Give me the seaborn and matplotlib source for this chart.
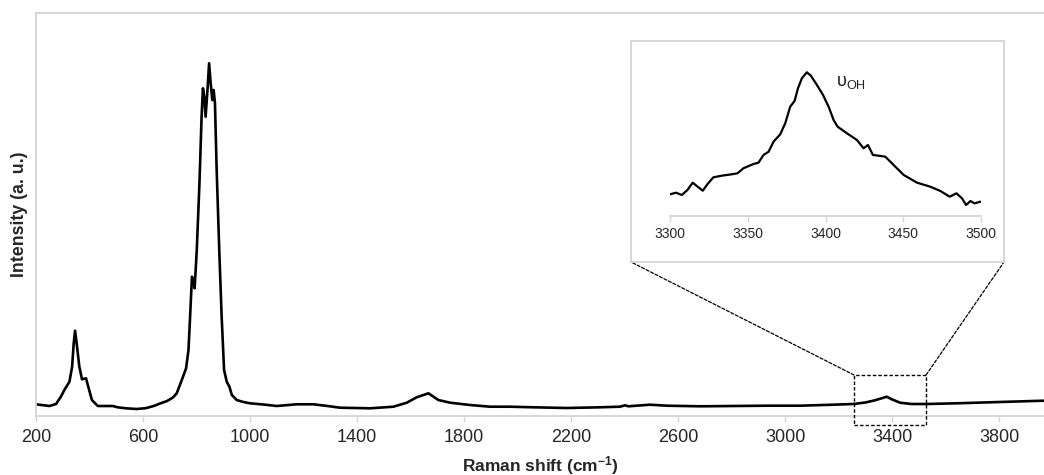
import numpy as np
import pandas as pd
import seaborn as sns
import matplotlib.pyplot as plt
from matplotlib.patches import Rectangle, ConnectionPatch

# Espectro Raman completo
raman_shift = [200, 250, 275, 293, 306, 325, 335, 341, 346, 352, 362, 372, 387, 397, 409, 431,
               487, 505, 536, 576, 610, 640, 664, 690, 712, 726, 745, 761, 770, 776, 783, 788, 793, 801, 811,
               819, 824, 829, 834, 841, 847, 853, 859, 864, 869, 875, 885, 894, 903, 913, 923,
               932, 950, 975, 1000, 1050, 1100, 1174, 1237, 1290, 1336, 1449, 1536, 1586, 1623, 1667, 1704,
               1748, 1822, 1897, 1972, 2059, 2184, 2308, 2383, 2402, 2414, 2495, 2557, 2682,
               2807, 2931, 3056, 3180, 3255, 3300, 3330, 3361, 3380, 3399, 3430, 3473, 3529,
               3642, 3766, 3891, 3968]
intensidade = [11.7, 10, 12, 19.3, 26, 34.3, 49.3, 72.7, 85.3, 72.7, 49.3, 36.7, 37.7, 27.7, 16, 10,
               10, 8.7, 7.7, 7, 7.8, 10, 12.5, 15, 18.5, 22.7, 36, 47.7, 66, 99.3, 139.3, 136, 127.7, 166, 232.7,
               299.3, 327.7, 319.3, 299.3, 326, 352.7, 332.7, 316, 326, 312.7, 249.3, 166, 99.3, 46, 34.3, 29.3,
               21, 16, 14, 12.7, 11.5, 10, 11.7, 11.7, 10, 8.3, 7.7, 9.3, 13.3, 18.7, 22.7, 16,
               13.3, 11, 9.3, 9.3, 8.7, 8, 8.7, 9.3, 10.7, 9.7, 11.3, 10.3, 9.7,
               10, 10.3, 10.3, 11.3, 12, 13.5, 15.3, 17.7, 19.3, 16.7, 13.3, 12, 12,
               12.7, 13.7, 14.7, 15.3]

# Detalhe da banda OH (inset)
oh_shift = [3300, 3303.9, 3307.6, 3311.2, 3314.6, 3317.8, 3321.1, 3324.0, 3327.9, 3333.3, 3339.7,
            3343.4, 3347.2, 3353.7, 3356.9, 3360.1, 3363.4, 3366.6, 3370.9, 3374.1, 3377.3, 3380.1,
            3382.3, 3384.8, 3388.0, 3390.6, 3394.5, 3398.4, 3402.0, 3405.2, 3407.8, 3413.8, 3420.2,
            3424.5, 3427.3, 3430.5, 3434.2, 3438.5, 3443.8, 3450.3, 3458.9, 3467.4, 3473.9, 3479.9,
            3484.2, 3487.8, 3490.4, 3493.2, 3495.8, 3499.6]
oh_int = [21.7, 23.3, 21, 26, 33.3, 29.3, 25.3, 31.7, 38.7, 40.3, 41.7,
          42.7, 47.7, 52, 53.3, 61, 64.3, 74.3, 81.7, 92.7, 109.3, 115,
          127.7, 137.7, 143.7, 140.3, 131, 121, 109.3, 96, 89.3, 82.7, 76,
          67.7, 71, 61, 60.3, 59.3, 51, 41, 33.3, 29.3, 25, 19.3,
          22.7, 17.7, 11, 15, 12.7, 14.3]

xticks_main = list(range(200, 4000, 400))
xticks_inset = [3300, 3350, 3400, 3450, 3500]

sns.set_theme(style='white')
plt.rcParams['font.family'] = ['Liberation Sans', 'DejaVu Sans']
plt.rcParams['mathtext.default'] = 'regular'

W, H = 1044, 475
fig = plt.figure(figsize=(W / 100, H / 100), dpi=100)
cinza = '#d4d4d4'

# Eixo principal
ax = fig.add_axes([36 / W, 59 / H, 1008 / W, 403 / H])
df = pd.DataFrame({'x': raman_shift, 'y': intensidade})
sns.lineplot(data=df, x='x', y='y', ax=ax, color='black', linewidth=1.9, estimator=None, sort=False)
ax.set_xlim(200, 3968)
ax.set_ylim(0, 403)
ax.set_xticks(xticks_main)
ax.set_yticks([])
ax.tick_params(axis='x', direction='out', length=4, width=1, color=cinza, labelsize=13, pad=5, bottom=True)
for lado in ['left', 'top', 'bottom']:
    ax.spines[lado].set_color(cinza)
    ax.spines[lado].set_linewidth(1.3)
ax.spines['right'].set_visible(False)
ax.set_xlabel('Raman shift (cm$^{-1}$)', fontsize=12.5, fontweight='bold', labelpad=6)
ax.set_ylabel('Intensity (a. u.)', fontsize=12.8, fontweight='bold', labelpad=6)

# Retangulo tracejado em torno da banda OH
ax.add_patch(Rectangle((3258, -9), 269, 50, fill=False, edgecolor='black', linestyle=(0, (2.5, 1.5)),
                       linewidth=1, clip_on=False, zorder=5))

# Moldura do inset
fig.patches.append(Rectangle((631 / W, 1 - 262 / H), 373 / W, 221 / H, transform=fig.transFigure,
                             facecolor='white', edgecolor=cinza, linewidth=1.3, zorder=2))

# Linhas de ligacao
for xd, xf in [(3258, 631), (3527, 1004)]:
    con = ConnectionPatch(xyA=(xd, 41), coordsA=ax.transData, xyB=(xf / W, 1 - 262 / H),
                          coordsB=fig.transFigure, linestyle=(0, (2.5, 1.5)), linewidth=0.9, color='black')
    fig.add_artist(con)

# Inset
axin = fig.add_axes([670 / W, 1 - 216 / H, 311 / W, 166 / H], zorder=3)
axin.patch.set_alpha(0)
dfi = pd.DataFrame({'x': oh_shift, 'y': oh_int})
sns.lineplot(data=dfi, x='x', y='y', ax=axin, color='black', linewidth=1.6, estimator=None, sort=False)
axin.set_xlim(3300, 3500)
axin.set_ylim(0, 166)
axin.set_xticks(xticks_inset)
axin.set_yticks([])
axin.tick_params(axis='x', direction='out', length=4, width=1, color=cinza, labelsize=10, pad=4, bottom=True)
for lado in ['left', 'top', 'right']:
    axin.spines[lado].set_visible(False)
axin.spines['bottom'].set_color(cinza)
axin.spines['bottom'].set_linewidth(1.3)
axin.set_xlabel('')
axin.set_ylabel('')
axin.text(3407, 133, 'υ$_{OH}$', fontsize=13, ha='left', va='center')

fig.savefig('out.png', dpi=100)
